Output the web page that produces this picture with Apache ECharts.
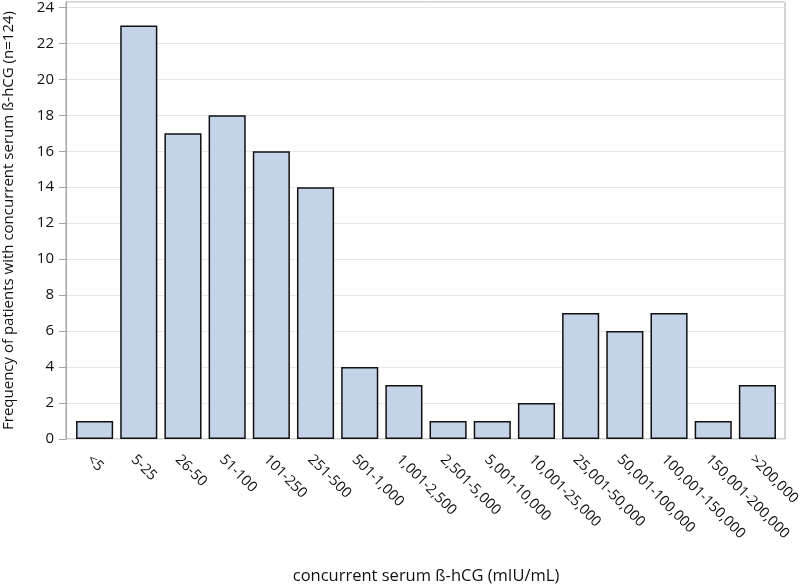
<!DOCTYPE html>
<html><head><meta charset="utf-8">
<script src="https://cdn.jsdelivr.net/npm/echarts@6/dist/echarts.min.js"></script>
<style>html,body{margin:0;padding:0;background:#fff}#c{width:800px;height:588px}</style>
</head><body><div id="c"></div>
<script>
const categories = ['<5','5-25','26-50','51-100','101-250','251-500','501-1,000','1,001-2,500','2,501-5,000','5,001-10,000','10,001-25,000','25,001-50,000','50,001-100,000','100,001-150,000','150,001-200,000','>200,000'];
const frequency = [1,23,17,18,16,14,4,3,1,1,2,7,6,7,1,3];
const yTitle = 'Frequency of patients with concurrent serum ß-hCG (n=124)';
const xTitle = 'concurrent serum ß-hCG (mIU/mL)';
const font = 'Open Sans';
const yMin = 0, yMax = 24.3, yStep = 2;
const chart = echarts.init(document.getElementById('c'));
chart.setOption({
  animation:false,
  textStyle:{fontFamily:font},
  grid:[
    {left:66,right:15,top:2,bottom:149,show:true,borderColor:'#a0a4a8',borderWidth:1,containLabel:false,outerBoundsMode:'none'},
    {left:72.5,right:20.5,top:2,bottom:149,containLabel:false,outerBoundsMode:'none'}
  ],
  xAxis:[
    {gridIndex:0,type:'value',min:0,max:1,show:false},
    {gridIndex:1,type:'category',data:categories,
    axisLine:{show:false},
    axisTick:{alignWithLabel:true,length:7,lineStyle:{color:'#a0a4a8'}},
    axisLabel:{rotate:-45,interval:0,color:'#111',fontSize:14.5,fontFamily:font,margin:13,verticalAlign:'top'},
    name:xTitle,nameLocation:'middle',nameGap:129,nameTextStyle:{fontSize:16.5,color:'#111',fontFamily:font}}
  ],
  yAxis:[
    {gridIndex:0,type:'value',min:yMin,max:yMax,interval:yStep,
    axisLine:{show:true,lineStyle:{color:'#a0a4a8'}},
    axisTick:{show:true,length:7,lineStyle:{color:'#a0a4a8'}},
    axisLabel:{showMaxLabel:false,color:'#111',fontSize:15,fontFamily:font,margin:12},
    splitLine:{lineStyle:{color:'#e6e6e6'}},
    name:yTitle,nameLocation:'middle',nameGap:50,nameTextStyle:{fontSize:15,color:'#111',fontFamily:font}},
    {gridIndex:1,type:'value',min:yMin,max:yMax,interval:yStep,show:false,splitLine:{show:false}}
  ],
  series:[{type:'bar',xAxisIndex:1,yAxisIndex:1,data:frequency,barCategoryGap:'16%',
    itemStyle:{color:'#c5d3e8',borderColor:'#111',borderWidth:1.5}}]
});
</script></body></html>
